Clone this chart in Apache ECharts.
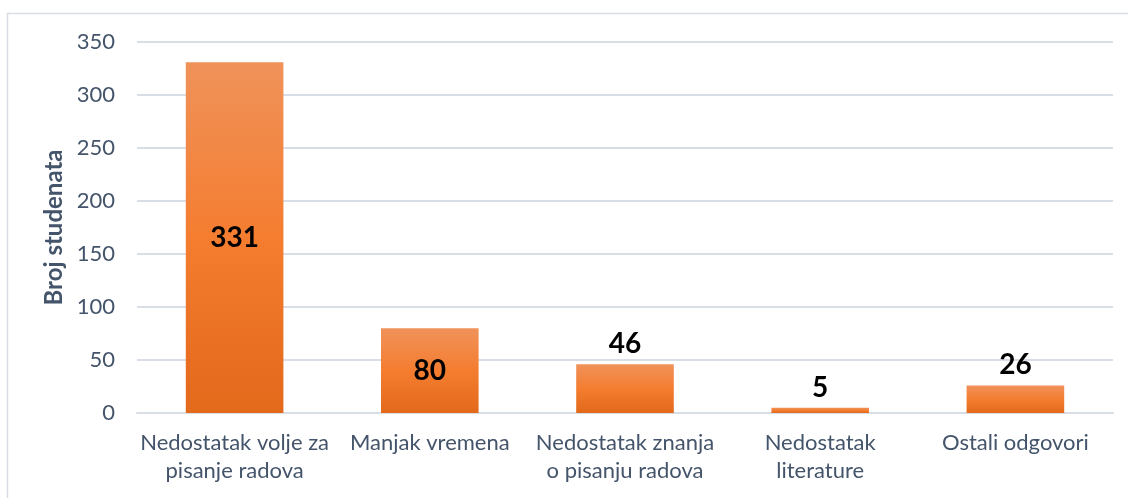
<!DOCTYPE html>
<html>
<head>
<meta charset="utf-8">
<script src="https://cdn.jsdelivr.net/npm/echarts@6/dist/echarts.min.js"></script>
<style>
  html, body { margin: 0; padding: 0; background: #fff; }
  #chart { width: 1128px; height: 498px; }
</style>
</head>
<body>
<div id="chart"></div>
<script>
  const categories = [
    'Nedostatak volje za\npisanje radova',
    'Manjak vremena',
    'Nedostatak znanja\no pisanju radova',
    'Nedostatak\nliterature',
    'Ostali odgovori'
  ];
  const values = [331, 80, 46, 5, 26];
  const insideLabel = [true, true, false, false, false];

  const textColor = '#44546a';
  const font = 'Lato, "Open Sans", sans-serif';

  const barGradient = new echarts.graphic.LinearGradient(0, 0, 0, 1, [
    { offset: 0, color: '#f0925a' },
    { offset: 0.5, color: '#f47d30' },
    { offset: 1, color: '#e3691b' }
  ]);

  const chart = echarts.init(document.getElementById('chart'));
  chart.setOption({
    animation: false,
    graphic: [
      {
        type: 'rect',
        shape: { x: 7.5, y: 13.5, width: 1300, height: 700 },
        style: { fill: 'none', stroke: '#d9dde3', lineWidth: 1.5 },
        silent: true
      }
    ],
    grid: { left: 137, right: 15, top: 42, bottom: 85 },
    xAxis: {
      type: 'category',
      data: categories,
      axisLine: { show: true, lineStyle: { color: '#d9dde6', width: 2 } },
      axisTick: { show: false },
      axisLabel: {
        color: textColor,
        fontFamily: font,
        fontSize: 22,
        lineHeight: 28,
        margin: 16,
        interval: 0
      }
    },
    yAxis: {
      type: 'value',
      min: 0,
      max: 350,
      interval: 50,
      name: 'Broj studenata',
      nameLocation: 'middle',
      nameGap: 66,
      nameTextStyle: {
        color: textColor,
        fontFamily: font,
        fontSize: 24,
        fontWeight: 'bold'
      },
      axisLine: { show: false },
      axisTick: { show: false },
      axisLabel: {
        color: textColor,
        fontFamily: font,
        fontSize: 22,
        margin: 22
      },
      splitLine: { lineStyle: { color: '#d9dde6', width: 2 } }
    },
    series: [
      {
        type: 'bar',
        barCategoryGap: '50%',
        data: values.map((v, i) => ({
          value: v,
          label: { position: insideLabel[i] ? 'inside' : 'top' }
        })),
        itemStyle: { color: barGradient },
        label: {
          show: true,
          color: '#000',
          fontFamily: font,
          fontSize: 28,
          fontWeight: 'bold',
          distance: 6
        }
      }
    ]
  });
</script>
</body>
</html>
